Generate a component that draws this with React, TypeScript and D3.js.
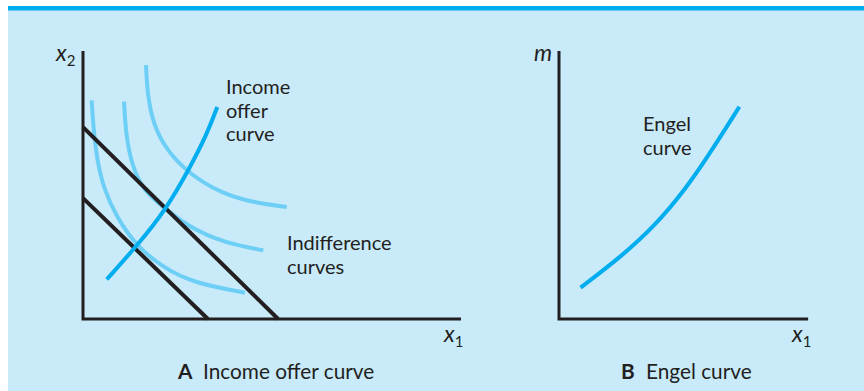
import React from "react";
import * as d3 from "d3";

// ---- Data (units of the stylised diagram) ----
const outerBudget: [number, number][] = [[0, 7.16], [5.42, 0]];
const innerBudget: [number, number][] = [[0, 4.51], [3.47, 0]];
const indiff1: [number, number][] = [[0.24, 8.16], [0.29, 7.14], [0.38, 6.02], [0.56, 4.9], [0.94, 3.78], [1.49, 2.72], [2.23, 1.91], [3.06, 1.35], [4.5, 0.98]];
const indiff2: [number, number][] = [[1.14, 8.11], [1.19, 6.89], [1.35, 5.77], [1.67, 4.78], [2.31, 4.09], [2.97, 3.41], [3.9, 2.85], [5.01, 2.56]];
const indiff3: [number, number][] = [[1.75, 9.47], [1.79, 8.38], [1.95, 7.26], [2.33, 6.27], [2.97, 5.4], [3.81, 4.71], [4.73, 4.34], [5.66, 4.18]];
const offerCurve: [number, number][] = [[0.66, 1.48], [1.49, 2.72], [2.31, 4.09], [2.97, 5.65], [3.44, 6.89], [3.73, 7.91]];
const engelCurve: [number, number][] = [[0.6, 1.17], [1.69, 2.29], [2.62, 3.41], [3.55, 4.9], [4.29, 6.39], [5.01, 7.92]];
const axisExtentA: [number, number] = [10.5, 10.0];
const axisExtentB: [number, number] = [6.92, 10.0];
const offerLabel = ["Income", "offer", "curve"];
const indiffLabel = ["Indifference", "curves"];
const engelLabel = ["Engel", "curve"];
const captionA = ["A", "Income offer curve"];
const captionB = ["B", "Engel curve"];

const FONT = "Lato, 'Open Sans', sans-serif";
const INK = "#231f20";
const LIGHT = "#6dcff6";
const DARK = "#00aeef";
const BG = "#c8eaf9";

export default function App() {
  const W = 864, H = 391;
  const yScale = d3.scaleLinear().domain([0, 10]).range([319, 51]);
  const xA = d3.scaleLinear().domain([0, 10]).range([83, 443]);
  const xB = d3.scaleLinear().domain([0, 10]).range([559, 919]);

  const lineA = d3.line<[number, number]>().x(d => xA(d[0])).y(d => yScale(d[1])).curve(d3.curveBasis);
  const lineB = d3.line<[number, number]>().x(d => xB(d[0])).y(d => yScale(d[1])).curve(d3.curveBasis);
  const straightA = d3.line<[number, number]>().x(d => xA(d[0])).y(d => yScale(d[1]));

  const axisPath = (sx: d3.ScaleLinear<number, number>, ext: [number, number]) =>
    `M${sx(0)},${yScale(ext[1])}L${sx(0)},${yScale(0)}L${sx(ext[0])},${yScale(0)}`;

  const fs = 20;
  const capFs = 20.8;
  const lh = 23.5;

  const multi = (lines: string[], x: number, y: number) => (
    <text x={x} y={y} fontFamily={FONT} fontSize={fs} fill={INK}>
      {lines.map((t, i) => (
        <tspan key={t} x={x} dy={i === 0 ? 0 : lh}>{t}</tspan>
      ))}
    </text>
  );

  return (
    <svg width={W} height={H} style={{ position: "absolute", left: 0, top: 0 }}>
      <rect x={0} y={0} width={W} height={H} fill="#ffffff" />
      <rect x={8} y={6} width={W - 8} height={H - 6} fill={BG} />
      <rect x={8} y={6} width={W - 8} height={4.5} fill={DARK} />

      {/* Panel A */}
      <path d={lineA(indiff1) || ""} fill="none" stroke={LIGHT} strokeWidth={4} />
      <path d={lineA(indiff2) || ""} fill="none" stroke={LIGHT} strokeWidth={4} />
      <path d={lineA(indiff3) || ""} fill="none" stroke={LIGHT} strokeWidth={4} />
      <path d={straightA(outerBudget) || ""} fill="none" stroke={INK} strokeWidth={4} />
      <path d={straightA(innerBudget) || ""} fill="none" stroke={INK} strokeWidth={4} />
      <path d={lineA(offerCurve) || ""} fill="none" stroke={DARK} strokeWidth={4} />
      <path d={axisPath(xA, axisExtentA)} fill="none" stroke={INK} strokeWidth={3} />

      <text x={56} y={61} fontFamily={FONT} fontSize={23} fontStyle="italic" fill={INK}>
        x<tspan fontSize={15} dy={5} fontStyle="normal">2</tspan>
      </text>
      <text x={444} y={342} fontFamily={FONT} fontSize={23} fontStyle="italic" fill={INK}>
        x<tspan fontSize={15} dy={5} fontStyle="normal">1</tspan>
      </text>
      {multi(offerLabel, 226, 94)}
      {multi(indiffLabel, 287, 250)}
      <text x={178} y={379} fontFamily={FONT} fontSize={capFs} fill={INK}>
        <tspan fontWeight="bold">{captionA[0]}</tspan>
        <tspan x={203}>{captionA[1]}</tspan>
      </text>

      {/* Panel B */}
      <path d={lineB(engelCurve) || ""} fill="none" stroke={DARK} strokeWidth={4} />
      <path d={axisPath(xB, axisExtentB)} fill="none" stroke={INK} strokeWidth={3} />
      <text x={534} y={61} fontFamily={FONT} fontSize={23} fontStyle="italic" fill={INK}>m</text>
      <text x={792} y={342} fontFamily={FONT} fontSize={23} fontStyle="italic" fill={INK}>
        x<tspan fontSize={15} dy={5} fontStyle="normal">1</tspan>
      </text>
      {multi(engelLabel, 643, 131)}
      <text x={621} y={379} fontFamily={FONT} fontSize={capFs} fill={INK}>
        <tspan fontWeight="bold">{captionB[0]}</tspan>
        <tspan x={646}>{captionB[1]}</tspan>
      </text>
    </svg>
  );
}
